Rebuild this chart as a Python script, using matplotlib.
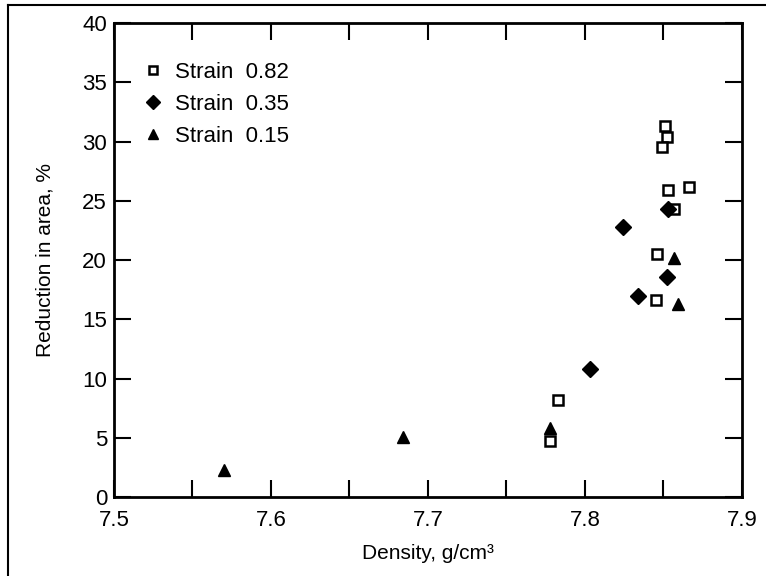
import matplotlib
matplotlib.use("Agg")
import matplotlib.pyplot as plt
from matplotlib.lines import Line2D
from matplotlib.ticker import MultipleLocator

plt.rcParams['font.family'] = ['Liberation Sans', 'DejaVu Sans']

# Strain 0.82 (open squares)
sq_x = [7.851, 7.852, 7.849, 7.853, 7.866, 7.857, 7.846, 7.845, 7.783, 7.778]
sq_y = [31.3, 30.4, 29.5, 25.9, 26.2, 24.3, 20.5, 16.6, 8.2, 4.7]
# Strain 0.35 (filled diamonds)
di_x = [7.853, 7.824, 7.852, 7.834, 7.803]
di_y = [24.3, 22.8, 18.6, 17.0, 10.8]
# Strain 0.15 (filled triangles)
tr_x = [7.857, 7.859, 7.778, 7.684, 7.570]
tr_y = [20.2, 16.3, 5.8, 5.1, 2.3]

fig = plt.figure(figsize=(7.66, 5.76), dpi=100)
ax = fig.add_axes([0.1488, 0.137, 0.8198, 0.823])

ax.plot(sq_x, sq_y, 's', ms=7, mfc='white', mec='black', mew=1.8,
        linestyle='none', label='Strain  0.82')
ax.plot(di_x, di_y, 'D', ms=8, color='black', linestyle='none',
        label='Strain  0.35')
ax.plot(tr_x, tr_y, '^', ms=8, color='black', linestyle='none',
        label='Strain  0.15')

ax.set_xlim(7.5, 7.9)
ax.set_ylim(0, 40)
ax.xaxis.set_major_locator(MultipleLocator(0.1))
ax.xaxis.set_minor_locator(MultipleLocator(0.05))
ax.yaxis.set_major_locator(MultipleLocator(5))

ax.tick_params(which='both', direction='in', top=True, right=True,
               length=12, width=1.5, labelsize=16)
ax.tick_params(axis='x', pad=9)
ax.tick_params(axis='y', pad=5)
for s in ax.spines.values():
    s.set_linewidth(2)

ax.set_xlabel('Density, g/cm³', fontsize=15, labelpad=10)
ax.set_ylabel('Reduction in area, %', fontsize=15, labelpad=20)

ax.legend(loc='upper left', frameon=False, fontsize=16,
          handletextpad=0.5, borderaxespad=0.0, labelspacing=0.5,
          handlelength=1.0, markerscale=0.9,
          bbox_to_anchor=(0.03, 0.937))

# outer frame
fig.add_artist(Line2D([0.011, 0.011], [0.0, 0.991], color='black', lw=1.5,
                      transform=fig.transFigure))
fig.add_artist(Line2D([0.011, 1.0], [0.991, 0.991], color='black', lw=1.5,
                      transform=fig.transFigure))

fig.savefig('out.png', dpi=100)
